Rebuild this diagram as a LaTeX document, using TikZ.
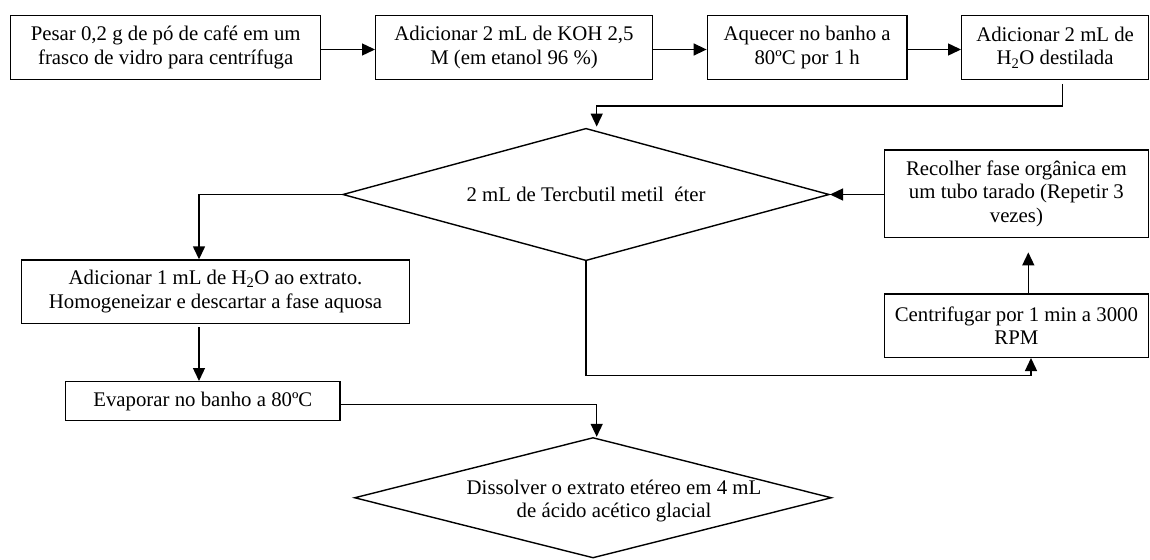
\documentclass[tikz,border=0pt]{standalone}
\usepackage{fontspec}
\setmainfont{Liberation Serif}
\usetikzlibrary{shapes.geometric,arrows.meta}
\begin{document}
\begin{tikzpicture}[x=1pt,y=-1pt,
  every node/.style={font=\fontsize{20.8pt}{23.6pt}\selectfont, align=center, inner sep=0pt},
  box/.style={draw, line width=1.4pt},
  dia/.style={draw, diamond, line width=1.4pt},
  arr/.style={line width=1.4pt, -{Triangle[length=13pt,width=12pt]}}]
\useasboundingbox (0,0) rectangle (1150,559);
% top row
\node[box, minimum width=310pt, minimum height=63.5pt] (b1) at (165.7,47.5)
  {Pesar 0,2 g de pó de café em um\\frasco de vidro para centrífuga};
\node[box, minimum width=276.6pt, minimum height=63.5pt] (b2) at (514,47.5)
  {Adicionar 2 mL de KOH 2,5\\M (em etanol 96 \%)};
\node[box, minimum width=199.7pt, minimum height=63.5pt] (b3) at (807.15,47.5)
  {Aquecer no banho a\\80ºC por 1 h};
\node[box, minimum width=186.8pt, minimum height=63.5pt] (b4) at (1055.1,47.5)
  {Adicionar 2 mL de\\H\textsubscript{2}O destilada};
% first diamond
\node[dia, aspect=3.675, minimum width=486.6pt, minimum height=132.4pt] (d1) at (586,194.5)
  {2 mL de Tercbutil metil\ \ éter};
% right column
\node[box, minimum width=264.2pt, minimum height=87.7pt] (r) at (1016.4,193.85)
  {Recolher fase orgânica em\\um tubo tarado (Repetir 3\\vezes)};
\node[box, minimum width=264.2pt, minimum height=63.3pt] (c) at (1016.4,325.65)
  {Centrifugar por 1 min a 3000\\RPM};
% left column
\node[box, minimum width=387.6pt, minimum height=63.3pt] (b5) at (215.5,291.65)
  {Adicionar 1 mL de H\textsubscript{2}O ao extrato.\\Homogeneizar e descartar a fase aquosa};
\node[box, minimum width=274.3pt, minimum height=39pt] (b6) at (202.85,401.2)
  {Evaporar no banho a 80ºC};
% bottom diamond
\node[dia, aspect=3.96, minimum width=477pt, minimum height=120.5pt] (d2) at (593,497.75) {};
\node (t2) at (614,501) {Dissolver o extrato etéreo em 4 mL\\de ácido acético glacial};
% connectors
\draw[arr] ([yshift=-2pt]b1.east) -- ([yshift=-2pt]b2.west);
\draw[arr] ([yshift=-2pt]b2.east) -- ([yshift=-2pt]b3.west);
\draw[arr] ([yshift=-2pt]b3.east) -- ([yshift=-2pt]b4.west);
\coordinate (k1) at (596.7,106);
\draw[arr] ([xshift=7.2pt,yshift=-4pt]b4.south) |- (k1) -- ([xshift=10.7pt,yshift=1pt]d1.north);
\draw[arr] (d1.west) -| ([xshift=-16.5pt]b5.north);
\draw[arr] ([xshift=-16.5pt,yshift=-3.4pt]b5.south) -- ([xshift=-3.85pt]b6.north);
\draw[arr] ([yshift=-3pt]b6.east) -| ([xshift=3.7pt]d2.north);
\draw[arr] (r.west |- d1.east) -- (d1.east);
\draw[arr] ([xshift=11.9pt]c.north) -- ([xshift=11.9pt,yshift=-14pt]r.south);
\coordinate (k2) at (800,375.7);
\draw[arr] (d1.south) |- (k2) -| ([xshift=14.6pt]c.south);
\end{tikzpicture}
\end{document}
